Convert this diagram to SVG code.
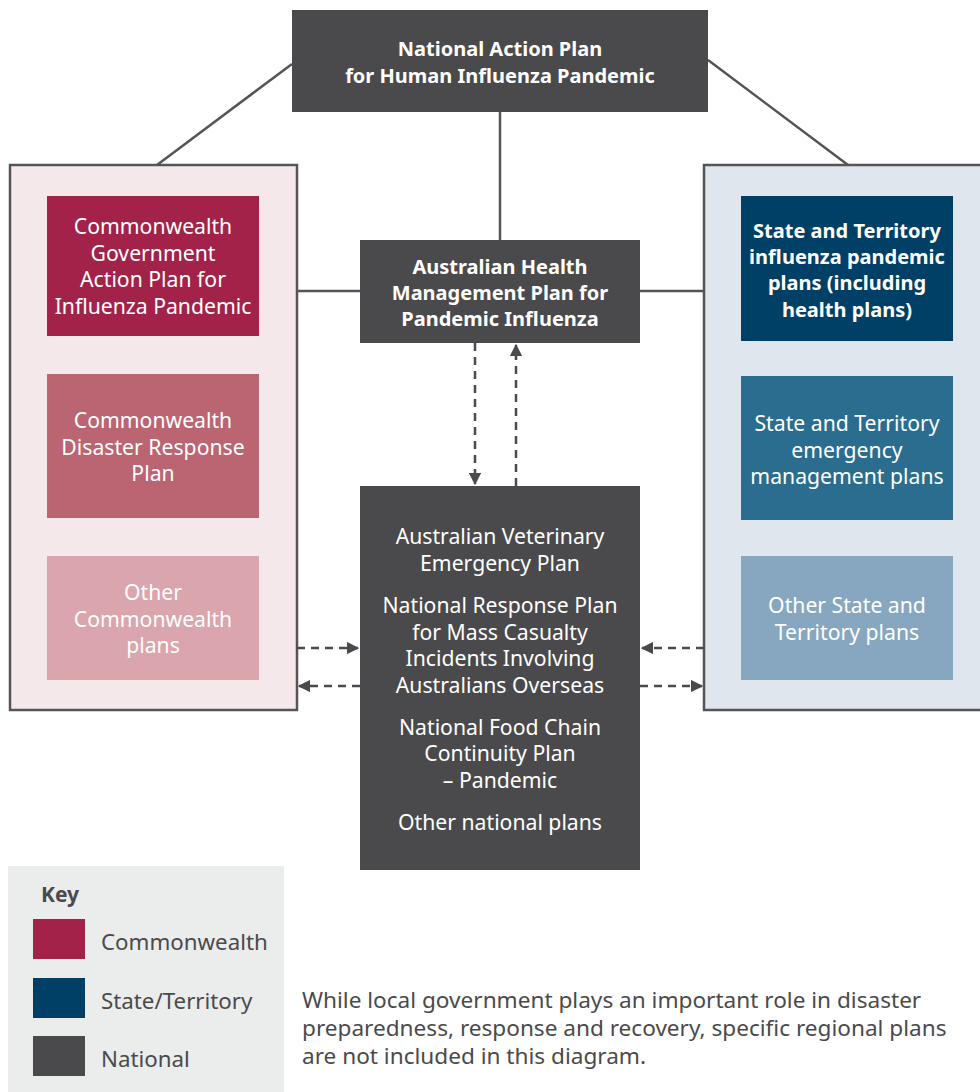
<svg xmlns="http://www.w3.org/2000/svg" width="980" height="1092" viewBox="0 0 980 1092">
<defs>
<style>
.t{font-family:"Noto Sans","Open Sans",sans-serif;font-size:21.2px;fill:#fff;text-anchor:middle}
.b{font-weight:bold;font-size:20px}
.ln{stroke:#555557;stroke-width:2.5;fill:none}
.dash{stroke:#4a4a4c;stroke-width:2.5;fill:none;stroke-dasharray:8,6}
.k{font-family:"Noto Sans","Open Sans",sans-serif;font-size:22.3px;fill:#4a4a4c}
.n{font-size:22.6px}
.kb{font-weight:bold;font-size:21px}
</style>
<marker id="ah" viewBox="0 0 10 10" refX="9" refY="5" markerWidth="5" markerHeight="5" orient="auto" markerUnits="strokeWidth">
<path d="M0,0 L10,5 L0,10 Z" fill="#4a4a4c"/>
</marker>
</defs>
<rect width="980" height="1092" fill="#fff"/>
<g id="connectors">
<line class="ln" x1="292" y1="64" x2="157" y2="165"/>
<line class="ln" x1="708" y1="60" x2="848" y2="165"/>
<line class="ln" x1="500" y1="112" x2="500" y2="240"/>
<line class="ln" x1="297" y1="291" x2="360" y2="291"/>
<line class="ln" x1="640" y1="291" x2="704" y2="291"/>
</g>
<g id="left-panel"><rect x="10" y="165" width="287" height="545" fill="#f5e8ea" stroke="#555557" stroke-width="2.5"/></g>
<g id="right-panel"><rect x="704" y="165" width="280" height="545" fill="#dfe6ee" stroke="#555557" stroke-width="2.5"/></g>
<g id="arrows">
<line class="dash" x1="475" y1="343" x2="475" y2="484" marker-end="url(#ah)"/>
<line class="dash" x1="516" y1="486" x2="516" y2="345" marker-end="url(#ah)"/>
<line class="dash" x1="297" y1="648" x2="358" y2="648" marker-end="url(#ah)"/>
<line class="dash" x1="360" y1="686" x2="299" y2="686" marker-end="url(#ah)"/>
<line class="dash" x1="704" y1="648" x2="642" y2="648" marker-end="url(#ah)"/>
<line class="dash" x1="640" y1="686" x2="702" y2="686" marker-end="url(#ah)"/>
</g>
<g id="national-action-plan">
<rect x="292" y="10" width="416" height="102" fill="#4a4a4c"/>
<text class="t b" x="500" y="56">National Action Plan</text>
<text class="t b" x="500" y="83">for Human Influenza Pandemic</text>
</g>
<g id="ahmp">
<rect x="360" y="240" width="280" height="103" fill="#4a4a4c"/>
<text class="t b" x="500" y="274">Australian Health</text>
<text class="t b" x="500" y="300">Management Plan for</text>
<text class="t b" x="500" y="326">Pandemic Influenza</text>
</g>
<g id="national-plans">
<rect x="360" y="486" width="280" height="384" fill="#4a4a4c"/>
<text class="t" x="500" y="544">Australian Veterinary</text>
<text class="t" x="500" y="571">Emergency Plan</text>
<text class="t" x="500" y="613">National Response Plan</text>
<text class="t" x="500" y="640">for Mass Casualty</text>
<text class="t" x="500" y="666">Incidents Involving</text>
<text class="t" x="500" y="693">Australians Overseas</text>
<text class="t" x="500" y="735">National Food Chain</text>
<text class="t" x="500" y="761">Continuity Plan</text>
<text class="t" x="500" y="788">– Pandemic</text>
<text class="t" x="500" y="830">Other national plans</text>
</g>
<g id="cw-action-plan">
<rect x="47" y="196" width="212" height="140" fill="#a3224a"/>
<text class="t" x="153" y="234">Commonwealth</text>
<text class="t" x="153" y="261">Government</text>
<text class="t" x="153" y="287">Action Plan for</text>
<text class="t" x="153" y="314">Influenza Pandemic</text>
</g>
<g id="cw-disaster-plan">
<rect x="47" y="374" width="212" height="144" fill="#bb6472"/>
<text class="t" x="153" y="428">Commonwealth</text>
<text class="t" x="153" y="455">Disaster Response</text>
<text class="t" x="153" y="481">Plan</text>
</g>
<g id="cw-other">
<rect x="47" y="556" width="212" height="124" fill="#dba5ad"/>
<text class="t" x="153" y="600">Other</text>
<text class="t" x="153" y="627">Commonwealth</text>
<text class="t" x="153" y="653">plans</text>
</g>
<g id="st-pandemic-plans">
<rect x="741" y="196" width="212" height="145" fill="#003f66"/>
<text class="t b" x="847" y="238">State and Territory</text>
<text class="t b" x="847" y="264">influenza pandemic</text>
<text class="t b" x="847" y="290">plans (including</text>
<text class="t b" x="847" y="317">health plans)</text>
</g>
<g id="st-emergency-plans">
<rect x="741" y="376" width="212" height="144" fill="#2a6d8f"/>
<text class="t" x="847" y="431">State and Territory</text>
<text class="t" x="847" y="458">emergency</text>
<text class="t" x="847" y="484">management plans</text>
</g>
<g id="st-other">
<rect x="741" y="556" width="212" height="124" fill="#87a7c0"/>
<text class="t" x="847" y="613">Other State and</text>
<text class="t" x="847" y="640">Territory plans</text>
</g>
<g id="key">
<rect x="8" y="866" width="276" height="226" fill="#ebecec"/>
<text class="k kb" x="41" y="902">Key</text>
<rect x="33" y="919" width="52" height="40" fill="#a3224a"/>
<text class="k" x="101" y="950">Commonwealth</text>
<rect x="33" y="978" width="52" height="40" fill="#003f66"/>
<text class="k" x="101" y="1009">State/Territory</text>
<rect x="33" y="1036" width="52" height="40" fill="#4a4a4c"/>
<text class="k" x="101" y="1067">National</text>
</g>
<g id="note">
<text class="k n" x="302" y="1008">While local government plays an important role in disaster</text>
<text class="k n" x="302" y="1036">preparedness, response and recovery, specific regional plans</text>
<text class="k n" x="302" y="1064">are not included in this diagram.</text>
</g>
</svg>
